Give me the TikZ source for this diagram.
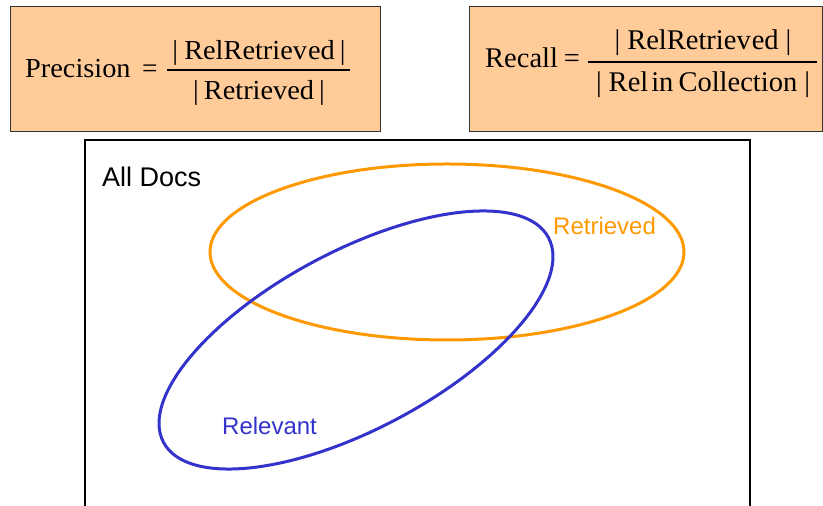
\documentclass[tikz,border=0pt]{standalone}
\usepackage{fontspec}
\setmainfont{Liberation Serif}
\newfontfamily\arialfont{Liberation Sans}
\definecolor{peach}{HTML}{FFCC99}
\definecolor{ret}{HTML}{FF9900}
\definecolor{rel}{HTML}{3333CC}
\definecolor{boxline}{HTML}{333333}
\begin{document}
\begin{tikzpicture}[x=1pt,y=1pt,
  fbox/.style={fill=peach,draw=boxline,line width=1pt},
  lfml/.style={inner sep=0pt,anchor=base,font=\fontsize{27.5}{29}\selectfont},
  rfml/.style={inner sep=0pt,anchor=base,font=\fontsize{28.5}{30}\selectfont},
  fbar/.style={draw=black,line width=1.1pt},
  lbl/.style={inner sep=0pt,anchor=base west,font=\arialfont\fontsize{24}{26}\selectfont},
  setline/.style={line width=3pt}]
\useasboundingbox (0,0) rectangle (823,506);
\fill[white] (0,0) rectangle (823,506);
% formula boxes
\node[fbox,minimum width=370pt,minimum height=125pt,inner sep=0pt,anchor=south west] (pbox) at (10,374) {};
\node[fbox,minimum width=353pt,minimum height=125pt,inner sep=0pt,anchor=south west] (rbox) at (469,374) {};
% Precision
\node[lfml,anchor=base west] (pname) at (25,428) {\scalebox{1.03}[1]{Precision}};
\node[lfml] (peq) at (150,428) {=};
\coordinate (pb1) at (167,436);
\coordinate (pb2) at (350,436);
\draw[fbar] (pb1) -- (pb2);
\node[lfml] (pnum) at (259,446) {\scalebox{1.03}[1]{|\hspace{6pt}RelRetriev\hspace{1pt}ed\hspace{5pt}|}};
\node[lfml] (pden) at (259,406) {\scalebox{1.03}[1]{|\hspace{5pt}Retrieved\hspace{5pt}|}};
% Recall
\node[rfml,anchor=base west] (rname) at (485,438) {Recall};
\node[rfml] (req) at (572,438) {=};
\coordinate (rb1) at (588,444);
\coordinate (rb2) at (817,444);
\draw[fbar] (rb1) -- (rb2);
\node[rfml] (rnum) at (703,456) {|\hspace{7pt}RelRetriev\hspace{1pt}ed\hspace{7pt}|};
\node[rfml] (rden) at (703,414) {|\hspace{7pt}Rel\hspace{3pt}in\hspace{5pt}Collection\hspace{7pt}|};
% All docs frame
\coordinate (f1) at (85,0);
\coordinate (f2) at (85,365.5);
\coordinate (f3) at (750,365.5);
\coordinate (f4) at (750,0);
\draw[line width=2pt,black] (f1) -- (f2) -- (f3) -- (f4);
\node[lbl,font=\arialfont\fontsize{27}{29}\selectfont] (alldocs) at (102,319) {All Docs};
% sets
\draw[setline,ret] (447,254) ellipse [x radius=237, y radius=88];
\draw[setline,rel] (356,166) ellipse [x radius=218, y radius=89, rotate=28];
\node[lbl,text=ret] (retl) at (553,271) {Retrieved};
\node[lbl,text=rel] (rell) at (222,71) {Relevant};
\end{tikzpicture}
\end{document}
